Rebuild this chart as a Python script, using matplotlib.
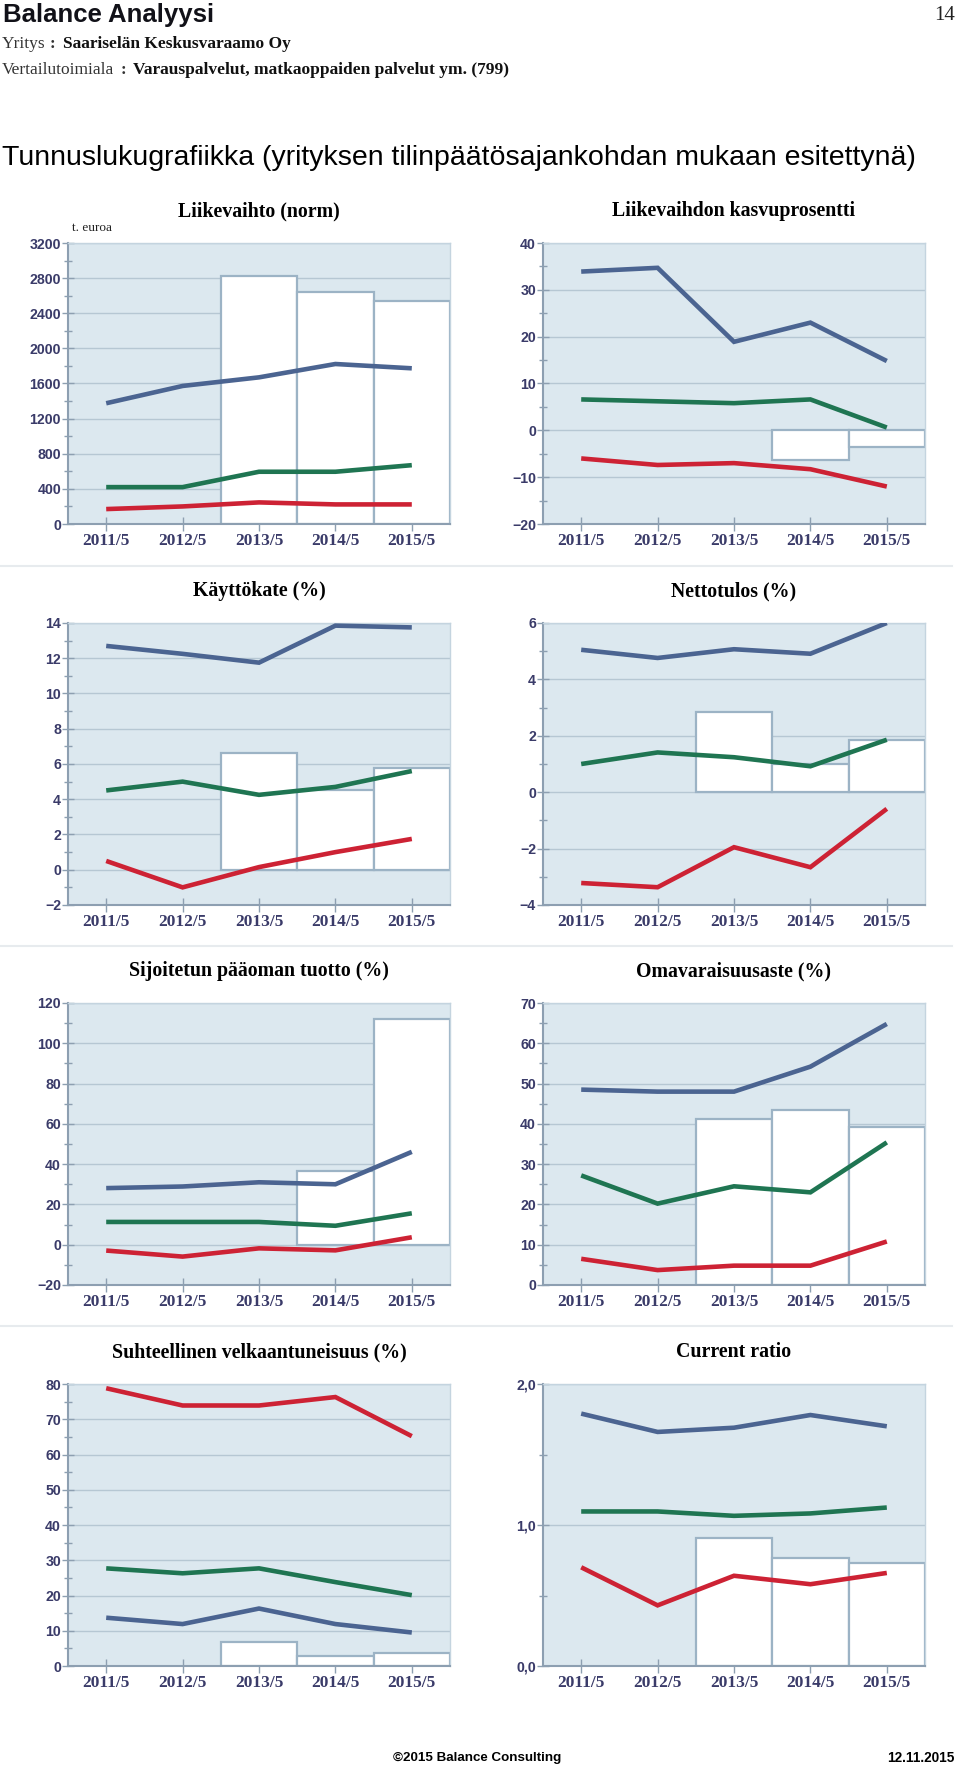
"""Balance Analyysi - tunnuslukugrafiikka, 8 small panels."""

import matplotlib
matplotlib.use("Agg")
import matplotlib.pyplot as pyplot
from matplotlib.ticker import MultipleLocator

W, H = 960, 1767

years = ["2011/5", "2012/5", "2013/5", "2014/5", "2015/5"]

# Liikevaihto (norm), t. euroa
liikevaihto_blue = [1375, 1572, 1670, 1822, 1773]
liikevaihto_green = [420, 420, 595, 595, 670]
liikevaihto_red = [170, 200, 246, 223, 223]
liikevaihto_bars = [None, None, 2822, 2644, 2545]

# Liikevaihdon kasvuprosentti
kasvu_blue = [33.9, 34.7, 18.9, 23.0, 14.8]
kasvu_green = [6.6, 6.2, 5.8, 6.6, 0.6]
kasvu_red = [-6.0, -7.4, -7.0, -8.3, -12.0]
kasvu_bars = [None, None, None, -6.4, -3.6]

# Käyttökate (%)
kate_blue = [12.7, 12.25, 11.75, 13.85, 13.75]
kate_green = [4.5, 5.0, 4.25, 4.7, 5.6]
kate_red = [0.5, -1.0, 0.15, 1.0, 1.75]
kate_bars = [None, None, 6.65, 4.5, 5.75]

# Nettotulos (%)
netto_blue = [5.05, 4.76, 5.07, 4.91, 6.0]
netto_green = [1.0, 1.41, 1.24, 0.92, 1.86]
netto_red = [-3.22, -3.37, -1.95, -2.66, -0.59]
netto_bars = [None, None, 2.86, 1.0, 1.86]

# Sijoitetun pääoman tuotto (%)
sijoitus_blue = [28.1, 28.9, 31.0, 30.0, 46.1]
sijoitus_green = [11.3, 11.3, 11.3, 9.4, 15.6]
sijoitus_red = [-2.9, -5.9, -1.8, -2.8, 3.7]
sijoitus_bars = [None, None, None, 36.7, 112.0]

# Omavaraisuusaste (%)
oma_blue = [48.5, 48.0, 48.0, 54.2, 64.8]
oma_green = [27.2, 20.2, 24.5, 23.0, 35.4]
oma_red = [6.5, 3.7, 4.8, 4.8, 10.8]
oma_bars = [None, None, 41.3, 43.5, 39.1]

# Suhteellinen velkaantuneisuus (%)
velka_blue = [13.7, 11.9, 16.3, 11.9, 9.5]
velka_green = [27.7, 26.3, 27.7, 23.8, 20.1]
velka_red = [78.8, 73.9, 73.9, 76.3, 65.2]
velka_bars = [None, None, 6.8, 2.9, 3.8]

# Current ratio
current_blue = [1.79, 1.66, 1.69, 1.78, 1.70]
current_green = [1.096, 1.096, 1.065, 1.082, 1.124]
current_red = [0.70, 0.43, 0.64, 0.58, 0.66]
current_bars = [None, None, 0.906, 0.767, 0.731]

BLUE = "#4b6491"
GREEN = "#1f7552"
RED = "#cd2234"
NAVY = "#3a3b69"
BG = "#dce8ef"
GRID = "#b6c7d3"
BAR_EDGE = "#9cb3c5"
SPINE = "#8d9fb1"

SANS = "Liberation Sans"
SERIF = "Liberation Serif"


def rect(x0, x1, ytop, ybot):
  return [x0 / W, 1 - ybot / H, (x1 - x0) / W, (ybot - ytop) / H]


def panel(figure, box, title, blue, green, red, bars, ylim, major, minor,
          labels=None):
  axes = figure.add_axes(rect(*box))
  axes.set_facecolor(BG)
  x = list(range(len(years)))

  bx = [i for i, v in zip(x, bars) if v is not None]
  bv = [v for v in bars if v is not None]
  axes.bar(bx, bv, width=1.0, color="white", edgecolor=BAR_EDGE,
           linewidth=1.6, zorder=2)
  for values, color in ((blue, BLUE), (green, GREEN), (red, RED)):
    axes.plot(x, values, color=color, linewidth=3.3, zorder=3,
              solid_capstyle="butt", solid_joinstyle="miter")

  axes.set_xlim(-0.5, 4.5)
  axes.set_ylim(*ylim)
  axes.yaxis.set_major_locator(MultipleLocator(major))
  axes.yaxis.set_minor_locator(MultipleLocator(minor))
  if labels is not None:
    axes.set_yticks(labels[0])
    axes.set_yticklabels(labels[1])
  axes.grid(axis="y", which="major", color=GRID, linewidth=1.0, zorder=1)
  axes.set_axisbelow(True)

  axes.set_xticks(x)
  axes.set_xticklabels(years, family=SERIF, fontweight="bold", fontsize=12.5,
                       color=NAVY)
  for label in axes.get_yticklabels():
    label.set_family(SANS)
    label.set_fontweight("bold")
    label.set_fontsize(10.2)
    label.set_color(NAVY)
  axes.tick_params(axis="x", direction="inout", length=10, width=1,
                   color=SPINE, pad=1.5)
  axes.tick_params(axis="y", which="major", direction="inout", length=8,
                   width=1, color=SPINE, pad=1)
  axes.tick_params(axis="y", which="minor", direction="inout", length=6,
                   width=1, color=SPINE)
  for side in ("left", "bottom"):
    axes.spines[side].set_color(SPINE)
    axes.spines[side].set_linewidth(1.5)
  for side in ("top", "right"):
    axes.spines[side].set_color("#c4d4df")
    axes.spines[side].set_linewidth(1.0)

  xc = (box[0] + box[1]) / 2 / W
  figure.text(xc, 1 - (box[2] - 32) / H, title, ha="center", va="center",
              family=SERIF, fontweight="bold", fontsize=14.3, color="black")
  return axes


if __name__ == '__main__':
  figure = pyplot.figure(figsize=(W / 100, H / 100), dpi=100)
  figure.patch.set_facecolor("white")

  # header
  figure.text(3 / W, 1 - 15 / H, "Balance Analyysi", ha="left", va="center",
              family=SANS, fontweight="bold", fontsize=18.5, color="#111118")
  figure.text(955 / W, 1 - 15 / H, "14", ha="right", va="center",
              family=SERIF, fontsize=15, color="#222222")
  figure.text(2 / W, 1 - 44 / H, "Yritys", ha="left", va="center",
              family=SERIF, fontsize=12.5, color="#333333")
  figure.text(50 / W, 1 - 44 / H, ":", ha="left", va="center",
              family=SERIF, fontweight="bold", fontsize=12.5, color="#333333")
  figure.text(63 / W, 1 - 44 / H, "Saariselän Keskusvaraamo Oy", ha="left",
              va="center", family=SERIF, fontweight="bold", fontsize=12.5,
              color="#111111")
  figure.text(2 / W, 1 - 70 / H, "Vertailutoimiala", ha="left",
              va="center", family=SERIF, fontsize=12.5, color="#333333")
  figure.text(121 / W, 1 - 70 / H, ":", ha="left", va="center",
              family=SERIF, fontweight="bold", fontsize=12.5, color="#333333")
  figure.text(133 / W, 1 - 70 / H,
              "Varauspalvelut, matkaoppaiden palvelut ym. (799)", ha="left",
              va="center", family=SERIF, fontweight="bold", fontsize=12.5,
              color="#111111")
  figure.text(2 / W, 1 - 158 / H,
              "Tunnuslukugrafiikka (yrityksen tilinpäätösajankohdan mukaan "
              "esitettynä)", ha="left", va="center", family=SANS,
              fontsize=20.5, color="black")

  # row separators
  for y in (566, 946, 1326):
    figure.add_artist(pyplot.Line2D([0, 952 / W], [1 - y / H, 1 - y / H],
                                    color="#e7ebee", linewidth=1.5))

  left = (68, 450)
  right = (543, 925)
  rows = [(243, 524), (623, 905), (1003, 1285), (1384, 1666)]

  panel(figure, left + rows[0], "Liikevaihto (norm)", liikevaihto_blue,
        liikevaihto_green, liikevaihto_red, liikevaihto_bars,
        (0, 3200), 400, 200)
  figure.text(72 / W, 1 - 228 / H, "t. euroa", ha="left", va="center",
              family=SERIF, fontsize=9.5, color="#222222")
  panel(figure, right + rows[0], "Liikevaihdon kasvuprosentti", kasvu_blue,
        kasvu_green, kasvu_red, kasvu_bars, (-20, 40), 10, 5)
  panel(figure, left + rows[1], "Käyttökate (%)", kate_blue, kate_green,
        kate_red, kate_bars, (-2, 14), 2, 1)
  panel(figure, right + rows[1], "Nettotulos (%)", netto_blue, netto_green,
        netto_red, netto_bars, (-4, 6), 2, 1)
  panel(figure, left + rows[2], "Sijoitetun pääoman tuotto (%)",
        sijoitus_blue, sijoitus_green, sijoitus_red, sijoitus_bars,
        (-20, 120), 20, 10)
  panel(figure, right + rows[2], "Omavaraisuusaste (%)", oma_blue, oma_green,
        oma_red, oma_bars, (0, 70), 10, 5)
  panel(figure, left + rows[3], "Suhteellinen velkaantuneisuus (%)",
        velka_blue, velka_green, velka_red, velka_bars, (0, 80), 10, 5)
  panel(figure, right + rows[3], "Current ratio", current_blue, current_green,
        current_red, current_bars, (0, 2), 1, 0.5,
        labels=([0, 1, 2], ["0,0", "1,0", "2,0"]))

  # footer
  figure.text(393 / W, 1 - 1758 / H, "©2015 Balance Consulting", ha="left",
              va="center", family=SANS, fontweight="bold", fontsize=9.6,
              color="black")
  figure.text(955 / W, 1 - 1758 / H, "12.11.2015", ha="right", va="center",
              family=SANS, fontweight="bold", fontsize=9.8, color="black")

  figure.savefig("out.png", dpi=100)
